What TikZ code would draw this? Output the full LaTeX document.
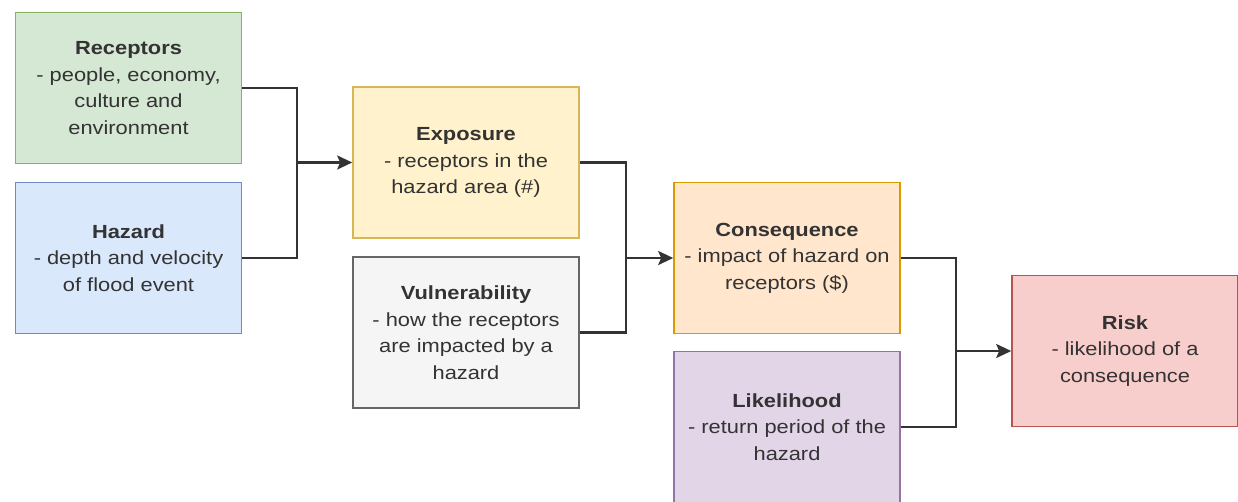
\documentclass[tikz,border=0pt]{standalone}
\usepackage{fontspec}
\setmainfont[FakeStretch=1.15]{Liberation Sans}
\usetikzlibrary{arrows.meta}
\definecolor{gfill}{HTML}{D5E8D4}\definecolor{gdraw}{HTML}{82B366}
\definecolor{bfill}{HTML}{DAE8FC}\definecolor{bdraw}{HTML}{6C8EBF}
\definecolor{yfill}{HTML}{FFF2CC}\definecolor{ydraw}{HTML}{D6B656}
\definecolor{kfill}{HTML}{F5F5F5}\definecolor{kdraw}{HTML}{666666}
\definecolor{ofill}{HTML}{FFE6CC}\definecolor{odraw}{HTML}{D79B00}
\definecolor{pfill}{HTML}{E1D5E7}\definecolor{pdraw}{HTML}{9673A6}
\definecolor{rfill}{HTML}{F8CECC}\definecolor{rdraw}{HTML}{B85450}
\definecolor{txt}{HTML}{333333}
\tikzset{
  box/.style={draw, line width=1.6pt, minimum width=226pt, minimum height=151pt, inner sep=0pt,
    align=center, text=txt, font=\fontsize{19}{26.5}\selectfont},
  conn/.style={draw=txt, line width=2.4pt},
  arr/.style={conn, -{Stealth[length=15pt,width=14pt,inset=3pt]}}
}
\begin{document}
\begin{tikzpicture}[x=1pt,y=-1pt]
\useasboundingbox (0,0) rectangle (1238,501);
\node[box, fill=gfill, draw=gdraw] (rec) at (128.5,88) {\textbf{Receptors}\\- people, economy,\\culture and\\environment};
\node[box, fill=bfill, draw=bdraw] (haz) at (128.5,258) {\textbf{Hazard}\\- depth and velocity\\of flood event};
\node[box, fill=yfill, draw=ydraw] (exp) at (466,162.5) {\textbf{Exposure}\\- receptors in the\\hazard area (\#)};
\node[box, fill=kfill, draw=kdraw] (vul) at (466,332.5) {\textbf{Vulnerability}\\- how the receptors\\are impacted by a\\hazard};
\node[box, fill=ofill, draw=odraw] (con) at (787,258) {\textbf{Consequence}\\- impact of hazard on\\receptors (\$)};
\node[box, fill=pfill, draw=pdraw] (lik) at (787,427) {\textbf{Likelihood}\\- return period of the\\hazard};
\node[box, fill=rfill, draw=rdraw] (risk) at (1125,351) {\textbf{Risk}\\- likelihood of a\\consequence};
\coordinate (j1) at (297,162.5);
\coordinate (j2) at (626,258);
\coordinate (j3) at (956,351);
\draw[conn] (rec.east) -| (j1);
\draw[conn] (haz.east) -| (j1);
\draw[arr] (j1) -- (exp.west);
\draw[conn] (exp.east) -| (j2);
\draw[conn] (vul.east) -| (j2);
\draw[arr] (j2) -- (con.west);
\draw[conn] (con.east) -| (j3);
\draw[conn] (lik.east) -| (j3);
\draw[arr] (j3) -- (risk.west);
\end{tikzpicture}
\end{document}
